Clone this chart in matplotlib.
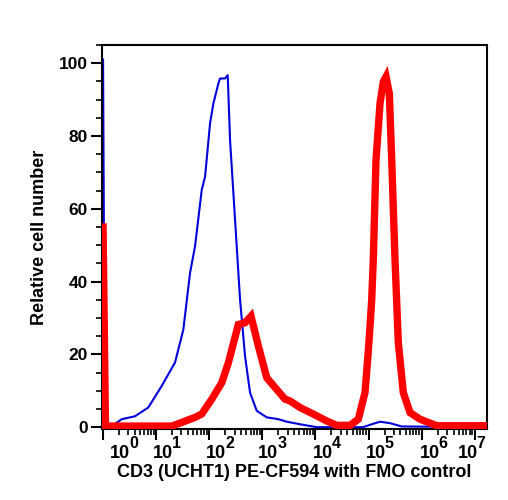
import matplotlib
matplotlib.use("Agg")
import matplotlib.pyplot as plt
from matplotlib.ticker import FixedLocator, LogLocator, NullFormatter, MultipleLocator

plt.rcParams['font.family'] = ['Liberation Sans', 'DejaVu Sans']
plt.rcParams['font.weight'] = 'bold'

# FMO control (blue)
fmo_x = [1.0, 1.08, 1.46, 2.25, 4.0, 7.1, 12.7, 22.7, 32.5, 43.5, 54.0, 72.2, 83.4,
         103.6, 119.5, 148.4, 159.7, 198.5, 222.9, 246.4, 306.3, 380.6, 472.3, 586.6,
         784, 1211, 2000, 2884, 5128, 10570, 78700, 114800, 164800, 254300, 421700, 1.7e7]
fmo_y = [101, 0.3, 0.3, 2.2, 3.0, 5.4, 11.3, 17.8, 26.8, 42.4, 49.7, 65.2, 68.8,
         83.5, 88.9, 94.4, 95.8, 95.8, 96.7, 78.9, 57.0, 35.0, 19.5, 9.5,
         4.5, 2.7, 2.2, 1.5, 0.8, 0.0, 0.0, 0.8, 1.5, 1.1, 0.2, 0.0]

# CD3 stained (red)
cd3_x = [1.0, 1.11, 9.5, 19.7, 30.3, 54, 72, 111.5, 171.9, 229, 353, 472, 612, 841,
         1211, 1734, 2675, 3325, 5128, 9120, 16330, 25180, 44850, 64300, 79800, 85900,
         99200, 106700, 114800, 123000, 138300, 164800, 190100, 213800, 246600, 273600,
         315600, 364100, 452200, 605300, 933000, 1.337e6, 1.923e6, 1.7e7]
cd3_y = [55, 0.3, 0.3, 0.3, 1.3, 2.7, 3.6, 7.7, 12.2, 17.7, 28.2, 28.7, 30.5, 22.3,
         13.6, 10.9, 7.7, 7.2, 5.4, 3.6, 1.7, 0.5, 0.5, 2.2, 7.7, 9.5,
         21, 27.7, 35, 46, 73.4, 89, 94.9, 96.3, 91.7, 73.4,
         46, 23.2, 9.5, 4.0, 2.2, 1.3, 0.4, 0.4]

x_exponents = [0, 1, 2, 3, 4, 5, 6, 7]
y_ticks = [0, 20, 40, 60, 80, 100]

fig = plt.figure(figsize=(5.08, 5.00), dpi=100)
ax = fig.add_axes([0.2008, 0.142, 0.7579, 0.768])

ax.plot(fmo_x, fmo_y, color='#0000dd', lw=1.5, zorder=2)
ax.plot(cd3_x, cd3_y, color='#ff0000', lw=5.3, zorder=3, solid_joinstyle='miter')

ax.set_xscale('log')
ax.set_xlim(10 ** -0.02, 10 ** 7.232)
ax.set_ylim(-0.5, 105)

ax.xaxis.set_major_locator(FixedLocator([10.0 ** e for e in x_exponents]))
ax.xaxis.set_minor_locator(LogLocator(base=10, subs=range(2, 10), numticks=20))
ax.xaxis.set_minor_formatter(NullFormatter())
ax.set_xticklabels([''] * len(x_exponents))

ax.yaxis.set_major_locator(FixedLocator(y_ticks))
ax.yaxis.set_minor_locator(MultipleLocator(5))
ax.set_yticklabels([str(v) for v in y_ticks])

ax.tick_params(axis='both', which='major', length=8, width=1.5, direction='out',
               labelsize=12.5, pad=2)
ax.tick_params(axis='both', which='minor', length=4.5, width=1.2, direction='out')

for s in ax.spines.values():
    s.set_linewidth(1.5)

# tick labels 10^n drawn as base + raised exponent
dxs = [7, -3, -3, -4, -3, -3, -2, -17]
for e, dx in zip(x_exponents, dxs):
    ax.annotate('10', xy=(10.0 ** e, 0), xycoords=('data', 'axes fraction'),
                xytext=(dx, -29), textcoords='offset pixels',
                ha='left', va='baseline', fontsize=13, fontweight='bold',
                annotation_clip=False)
    ax.annotate(str(e), xy=(10.0 ** e, 0), xycoords=('data', 'axes fraction'),
                xytext=(dx + 19, -19), textcoords='offset pixels',
                ha='left', va='baseline', fontsize=11.5, fontweight='bold',
                annotation_clip=False)

ax.set_xlabel('CD3 (UCHT1) PE-CF594 with FMO control', fontsize=13, fontweight='bold', labelpad=15)
ax.set_ylabel('Relative cell number', fontsize=13, fontweight='bold', labelpad=8)

fig.savefig('out.png', dpi=100)
